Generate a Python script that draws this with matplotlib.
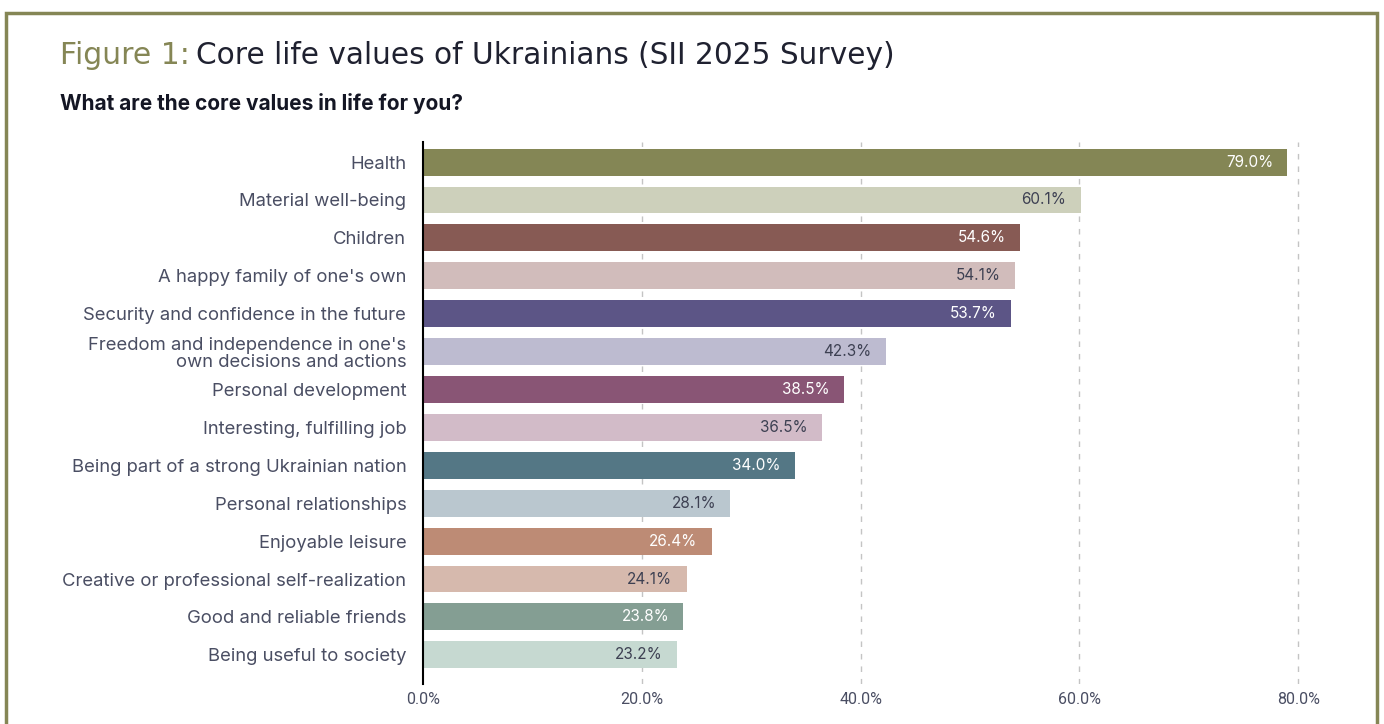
import matplotlib
matplotlib.use("Agg")
import matplotlib.pyplot as plt
from matplotlib.patches import Rectangle
from matplotlib.ticker import FuncFormatter
import numpy as np

categories = [
    "Health",
    "Material well-being",
    "Children",
    "A happy family of one's own",
    "Security and confidence in the future",
    "Freedom and independence in one's\nown decisions and actions",
    "Personal development",
    "Interesting, fulfilling job",
    "Being part of a strong Ukrainian nation",
    "Personal relationships",
    "Enjoyable leisure",
    "Creative or professional self-realization",
    "Good and reliable friends",
    "Being useful to society",
]
values = [79.0, 60.1, 54.6, 54.1, 53.7, 42.3, 38.5, 36.5, 34.0, 28.1, 26.4, 24.1, 23.8, 23.2]
bar_colors = [
    "#848655", "#cdd0bb", "#875a54", "#d1bcbb", "#5c5586", "#bdbbd0", "#895575",
    "#d2bbc8", "#547785", "#bac7cf", "#bd8b75", "#d6b9ad", "#849e93", "#c6d9d1",
]
label_colors = [
    "white", "#3d4052", "white", "#3d4052", "white", "#3d4052", "white",
    "#3d4052", "white", "#3d4052", "white", "#3d4052", "white", "#3d4052",
]
x_ticks = [0, 20, 40, 60, 80]

W, H = 1384, 724
fig = plt.figure(figsize=(W / 100, H / 100), dpi=100)
fig.patch.set_facecolor("white")

# olive frame around the figure
OLIVE = "#858655"
fig.add_artist(Rectangle((6 / W, -0.2), (1377 - 6) / W, (H - 13) / H + 0.2,
                         transform=fig.transFigure, fill=False,
                         edgecolor=OLIVE, linewidth=2.5))

TEXT = "#4a4e63"

# title and question
fig.text(60 / W, 1 - 55 / H, "Figure 1:", color=OLIVE, fontsize=21.5,
         family="DejaVu Sans", fontweight="normal", va="center", ha="left")
fig.text(196 / W, 1 - 55 / H, "Core life values of Ukrainians (SII 2025 Survey)",
         color="#1f2130", fontsize=21.3, family="DejaVu Sans", fontweight="normal",
         va="center", ha="left")
fig.text(60 / W, 1 - 104 / H, "What are the core values in life for you?",
         color="#141624", fontsize=15, family="Inter", fontweight="bold",
         va="center", ha="left")

ax_left, ax_right = 423 / W, 1342 / W
ax_top, ax_bottom = 1 - 142 / H, 1 - 684 / H
ax = fig.add_axes([ax_left, ax_bottom, ax_right - ax_left, ax_top - ax_bottom])

y = np.arange(len(categories))
ax.barh(y, values, height=0.71, color=bar_colors, zorder=2)

for yi, v, lc in zip(y, values, label_colors):
    ax.text(v - 1.3, yi, f"{v:.1f}%", ha="right", va="center",
            color=lc, fontsize=11, family="Inter", zorder=3)

ax.set_xlim(0, 84)
ax.set_ylim(len(categories) - 1 + 0.77, -0.53)
ax.set_yticks(y)
ax.set_yticklabels(categories, fontsize=13.3, family="Inter", color=TEXT,
                   linespacing=1.05)
ax.set_xticks(x_ticks)
ax.xaxis.set_major_formatter(FuncFormatter(lambda v, p: f"{v:.1f}%"))
for lab in ax.get_xticklabels():
    lab.set_family("Roboto")
    lab.set_fontsize(11.5)
    lab.set_color(TEXT)
ax.tick_params(axis="both", length=0)
ax.tick_params(axis="y", pad=12)
ax.tick_params(axis="x", pad=6)

for s in ["top", "right", "bottom"]:
    ax.spines[s].set_visible(False)
ax.spines["left"].set_color("black")
ax.spines["left"].set_linewidth(1.5)

for xt in x_ticks[1:]:
    ax.axvline(xt, color="#c4c4c4", linestyle=(0, (4, 5)), linewidth=1, zorder=1)

fig.savefig("out.png", dpi=100)
